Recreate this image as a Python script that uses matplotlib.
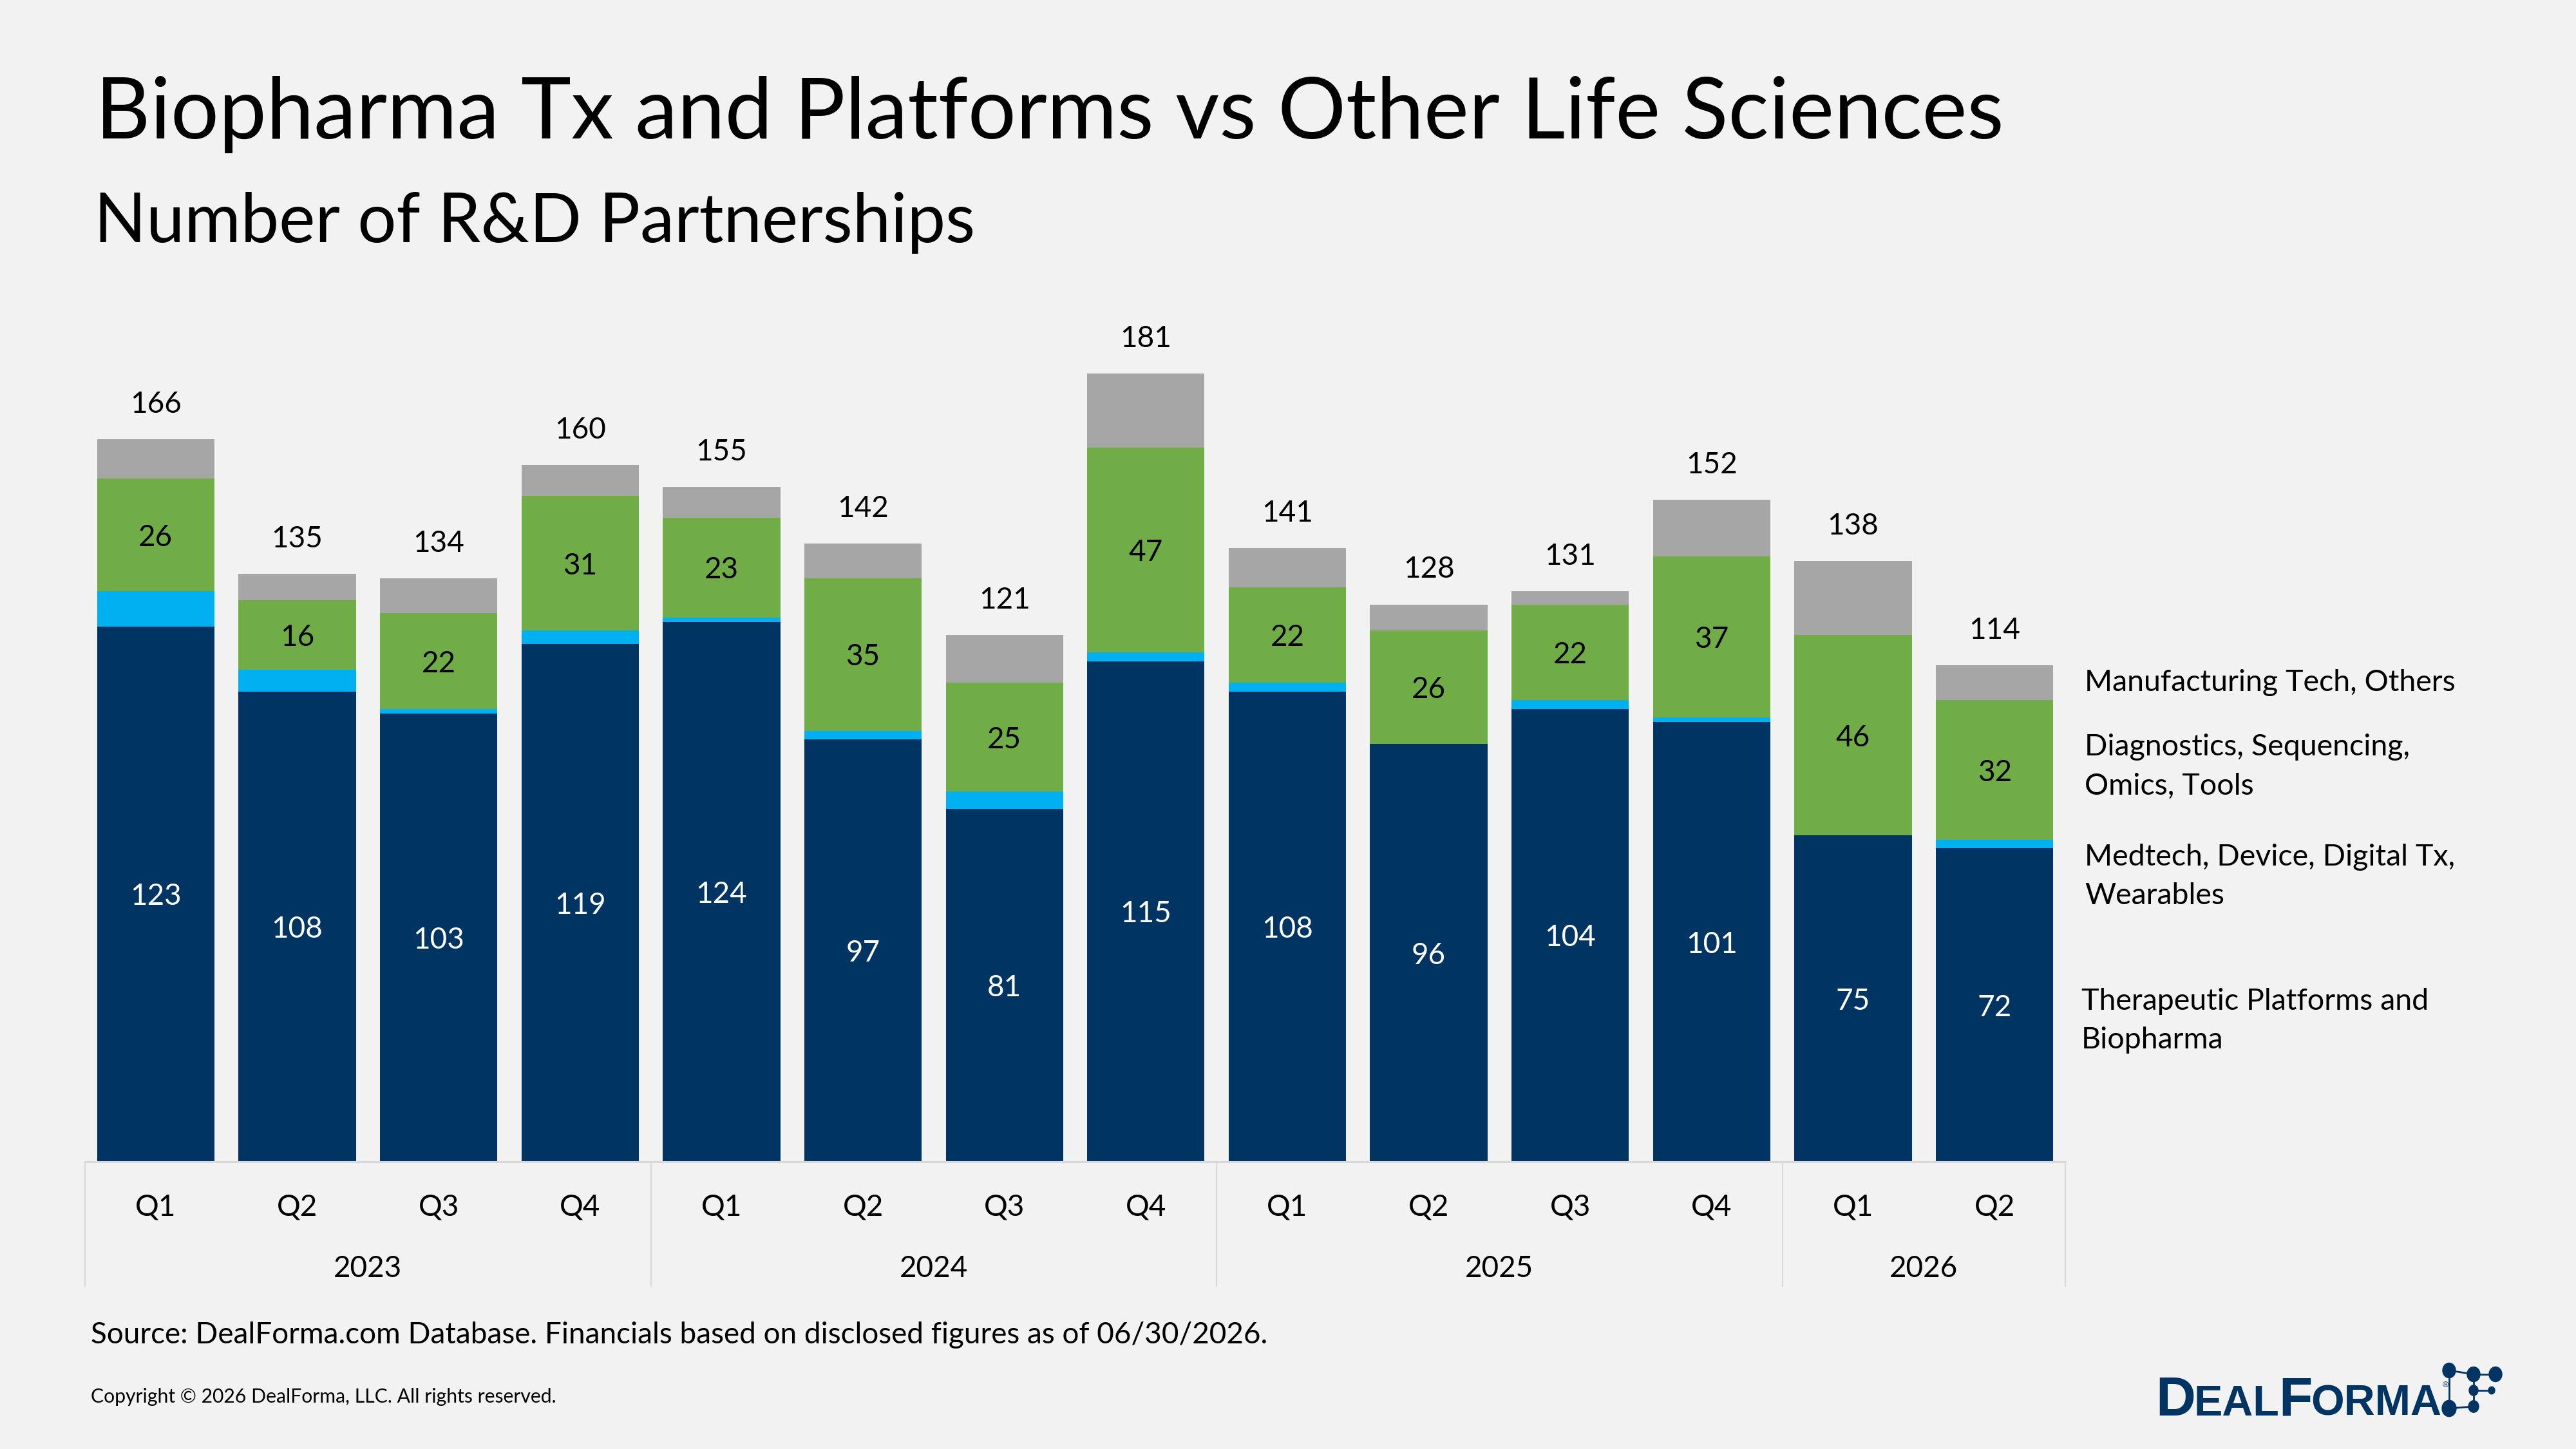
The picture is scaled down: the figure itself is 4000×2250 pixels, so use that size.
import matplotlib
matplotlib.use("Agg")
import matplotlib.pyplot as plt
import numpy as np
from matplotlib.patches import Ellipse
from matplotlib.lines import Line2D

# ---------------- data ----------------
quarters = ["Q1", "Q2", "Q3", "Q4", "Q1", "Q2", "Q3", "Q4", "Q1", "Q2", "Q3", "Q4", "Q1", "Q2"]
years = ["2023", "2024", "2025", "2026"]
year_counts = [4, 4, 4, 2]
therapeutic = [123, 108, 103, 119, 124, 97, 81, 115, 108, 96, 104, 101, 75, 72]
medtech = [8, 5, 1, 3, 1, 2, 4, 2, 2, 0, 2, 1, 0, 2]
diagnostics = [26, 16, 22, 31, 23, 35, 25, 47, 22, 26, 22, 37, 46, 32]
manufacturing = [9, 6, 8, 7, 7, 8, 11, 17, 9, 6, 3, 13, 17, 8]
totals = [166, 135, 134, 160, 155, 142, 121, 181, 141, 128, 131, 152, 138, 114]
series_names = ["Therapeutic Platforms and\nBiopharma",
                "Medtech, Device, Digital Tx,\nWearables",
                "Diagnostics, Sequencing,\nOmics, Tools",
                "Manufacturing Tech, Others"]

title = "Biopharma Tx and Platforms vs Other Life Sciences"
subtitle = "Number of R&D Partnerships"
source = "Source: DealForma.com Database. Financials based on disclosed figures as of 06/30/2026."
copyright_txt = "Copyright \u00a9 2026 DealForma, LLC. All rights reserved."
logo_parts = [("D", True), ("EAL", False), ("F", True), ("ORMA", False)]

# ---------------- style ----------------
BG = "#f2f2f2"
NAVY = "#003462"
BLUE = "#00b0f0"
GREEN = "#70ad47"
GRAY = "#a6a6a6"
FONT = "Lato"
plt.rcParams["font.family"] = [FONT, "DejaVu Sans"]

W, H = 4000, 2250
fig = plt.figure(figsize=(40, 22.5), dpi=100, facecolor=BG)


def fx(px):
    return px / W


def fy(py):
    return 1 - py / H


base_px, top_px = 1804, 452
ax = fig.add_axes([fx(132), fy(base_px), (3207 - 132) / W, (base_px - top_px) / H])
ax.set_facecolor(BG)

x = np.arange(len(therapeutic))
bw = 0.83
th = np.array(therapeutic)
md = np.array(medtech)
dg = np.array(diagnostics)
mf = np.array(manufacturing)

ax.bar(x, th, width=bw, color=NAVY, linewidth=0)
ax.bar(x, md, width=bw, bottom=th, color=BLUE, linewidth=0)
ax.bar(x, dg, width=bw, bottom=th + md, color=GREEN, linewidth=0)
ax.bar(x, mf, width=bw, bottom=th + md + dg, color=GRAY, linewidth=0)

ax.set_xlim(-0.5, len(x) - 0.5)
ax.set_ylim(0, 200)
for s in ["top", "right", "left"]:
    ax.spines[s].set_visible(False)
ax.spines["bottom"].set_color("#d9d9d9")
ax.spines["bottom"].set_linewidth(2.2)
ax.set_yticks([])
ax.set_xticks([])

LBL = 33
VA = "center_baseline"
for i in range(len(x)):
    ax.text(x[i], th[i] / 2, str(therapeutic[i]), ha="center", va=VA,
            color="white", fontsize=LBL)
    ax.text(x[i], th[i] + md[i] + dg[i] / 2, str(diagnostics[i]), ha="center",
            va=VA, color="black", fontsize=LBL)
    ax.annotate(str(totals[i]), (x[i], totals[i]), xytext=(0, 42),
                textcoords="offset points", ha="center", va=VA,
                color="black", fontsize=LBL)

# category axis (quarters + years)
axh = base_px - top_px
tr = ax.get_xaxis_transform()
for i, q in enumerate(quarters):
    ax.text(x[i], -(1870 - base_px) / axh, q, transform=tr, ha="center",
            va=VA, fontsize=LBL, color="black")
start = 0
bounds = [-0.5]
for yr, n in zip(years, year_counts):
    ax.text(start + (n - 1) / 2, -(1966 - base_px) / axh, yr, transform=tr,
            ha="center", va=VA, fontsize=LBL, color="black")
    start += n
    bounds.append(start - 0.5)
for b in bounds:
    ax.add_line(Line2D([b, b], [0, -(1997 - base_px) / axh], transform=tr,
                       color="#d9d9d9", linewidth=1.5, clip_on=False))

# legend labels at right
leg_pos = [(3232, 1585), (3237, 1361), (3237, 1190), (3237, 1060)]
for name, (px, py) in zip(series_names, leg_pos):
    fig.text(fx(px), fy(py), name, ha="left", va="center", fontsize=33.5,
             color="black", linespacing=1.55)

# titles and footer
fig.text(fx(148), fy(215), title, ha="left", va="baseline", fontsize=95, color="black")
fig.text(fx(146), fy(376), subtitle, ha="left", va="baseline", fontsize=76.5, color="black")
fig.text(fx(141), fy(2086), source, ha="left", va="baseline", fontsize=33, color="black")
fig.text(fx(141), fy(2178), copyright_txt, ha="left", va="baseline", fontsize=21.7, color="black")

# logo
LF = ["Liberation Sans", "DejaVu Sans"]
renderer = fig.canvas.get_renderer()


def place_logo(scale):
    arts = []
    cur = 3347
    for txt, big in logo_parts:
        t = fig.text(fx(cur), fy(2198), txt, ha="left", va="baseline",
                     fontsize=(62 if big else 48) * scale, fontweight="bold",
                     family=LF, color=NAVY)
        bb = t.get_window_extent(renderer)
        cur = bb.x1 - 2
        arts.append(t)
    return arts, cur


arts, end = place_logo(1.0)
sc = (3789 - 3347) / (end - 3347)
for a in arts:
    a.remove()
arts, end = place_logo(sc)
fig.text(fx(end + 4), fy(2151), "\u00ae", ha="left", va="center", fontsize=9,
         family=LF, color=NAVY)
dots = [(3803, 2128, 10), (3841, 2134, 10), (3875, 2134, 10), (3841, 2159, 7),
        (3869, 2159, 5), (3803, 2187, 11), (3841, 2184, 8)]
links = [(0, 1), (1, 2), (0, 5), (1, 6), (3, 4), (5, 6)]
for a, b in links:
    fig.add_artist(Line2D([fx(dots[a][0]), fx(dots[b][0])],
                          [fy(dots[a][1]), fy(dots[b][1])],
                          transform=fig.transFigure, color=NAVY, linewidth=2))
for (px, py, r) in dots:
    fig.add_artist(Ellipse((fx(px), fy(py)), 2 * r / W, 2.3 * r / H,
                           transform=fig.transFigure, color=NAVY))

fig.savefig("out.png", dpi=100, facecolor=BG)
